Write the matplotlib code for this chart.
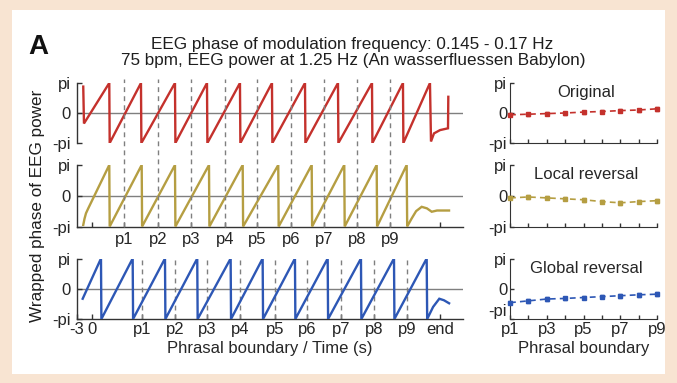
import numpy as np
import matplotlib
matplotlib.use("Agg")
import matplotlib.pyplot as plt
from matplotlib.patches import Rectangle
from matplotlib.lines import Line2D

plt.rcParams['font.family'] = ['Liberation Sans', 'DejaVu Sans']

PI = np.pi

# ---------------- data (phase in units of pi, time in s) ----------------
# Original (red)
orig_start_t = [-1.69, -1.55]
orig_start_ph = [0.88, -0.35]
orig_peaks_t = [3.36, 9.51, 16.11, 22.32, 28.72, 34.93, 41.34, 47.74, 54.34, 60.35, 65.59]
orig_tail_t = [65.79, 66.37, 67.54, 69.09, 69.15]
orig_tail_ph = [-0.95, -0.68, -0.57, -0.51, 0.54]

# Local reversal (olive)
local_start_t = [-1.69, -1.45, -1.16, -0.72]
local_start_ph = [-0.95, -0.75, -0.57, -0.41]
local_peaks_t = [3.36, 9.65, 16.11, 22.71, 29.25, 36.15, 42.64, 48.96, 55.25, 61.07]
local_tail_t = [61.17, 62.0, 62.9, 63.98, 65.0, 65.93, 66.96, 69.29]
local_tail_ph = [-1.0, -0.75, -0.5, -0.36, -0.41, -0.52, -0.48, -0.48]

# Global reversal (blue)
global_start_t = [-1.80]
global_start_ph = [-0.33]
global_peaks_t = [1.75, 7.90, 14.17, 20.43, 26.91, 33.12, 39.39, 45.74, 52.20, 58.61, 64.95]
global_tail_t = [65.05, 66.2, 67.4, 68.3, 69.3]
global_tail_ph = [-1.0, -0.6, -0.33, -0.38, -0.48]

# phrasal boundaries (s)
bound_orig = [6.3, 12.8, 19.2, 25.8, 32.1, 38.6, 45.0, 51.4, 57.8]
bound_global = [9.7, 16.1, 22.3, 28.7, 35.5, 41.7, 48.3, 54.7, 61.1]
t_end = 67.6
bound_labels = ['p1', 'p2', 'p3', 'p4', 'p5', 'p6', 'p7', 'p8', 'p9']

# phase at phrasal boundaries (units of pi), mean and error
phr_idx = [1, 2, 3, 4, 5, 6, 7, 8, 9]
orig_mean = [-0.06, -0.04, -0.02, 0.0, 0.03, 0.05, 0.08, 0.10, 0.14]
orig_err = [0.05, 0.05, 0.05, 0.05, 0.05, 0.05, 0.06, 0.05, 0.06]
local_mean = [-0.07, -0.04, -0.07, -0.10, -0.13, -0.19, -0.23, -0.19, -0.16]
local_err = [0.05, 0.05, 0.05, 0.05, 0.06, 0.06, 0.07, 0.06, 0.06]
global_mean = [-0.46, -0.40, -0.34, -0.32, -0.29, -0.26, -0.23, -0.20, -0.18]
global_err = [0.06, 0.06, 0.06, 0.06, 0.06, 0.06, 0.06, 0.06, 0.06]

RED = '#C4312C'
OLIVE = '#B59E42'
BLUE = '#2D57B5'
GRAY = '#7F7F7F'


def sawtooth(start_t, start_ph, peaks, tail_t, tail_ph, eps=0.08):
    t = list(start_t)
    p = list(start_ph)
    for i, pk in enumerate(peaks):
        t.append(pk)
        p.append(1.0)
        if i < len(peaks) - 1:
            t.append(pk + eps)
            p.append(-1.0)
    t += list(tail_t)
    p += list(tail_ph)
    return np.array(t), np.array(p) * PI


W, H = 677, 383
fig = plt.figure(figsize=(W / 100, H / 100), dpi=100)
fig.patch.set_facecolor('#F8E4D2')
fig.add_artist(Rectangle((12 / W, 1 - 374 / H), (665 - 12) / W, (374 - 10) / H,
                         transform=fig.transFigure, facecolor='white',
                         edgecolor='none', zorder=-10))


def fx(px):
    return px / W


def fy(py):
    return 1 - py / H


rows = [(83, 143), (165, 226.5), (258.5, 319)]
L, R = 76.5, 463
L2, R2 = 510, 657

series = [
    (orig_start_t, orig_start_ph, orig_peaks_t, orig_tail_t, orig_tail_ph, RED, bound_orig),
    (local_start_t, local_start_ph, local_peaks_t, local_tail_t, local_tail_ph, OLIVE, bound_orig),
    (global_start_t, global_start_ph, global_peaks_t, global_tail_t, global_tail_ph, BLUE, bound_global),
]
right_series = [(orig_mean, orig_err, RED, 'Original'),
                (local_mean, local_err, OLIVE, 'Local reversal'),
                (global_mean, global_err, BLUE, 'Global reversal')]

FS = 12
TXT = '#262626'
left_axes = []
for i, ((top, bot), s) in enumerate(zip(rows, series)):
    ax = fig.add_axes([fx(L), fy(bot), fx(R) - fx(L), fy(top) - fy(bot)])
    ax.set_facecolor('none')
    st, sp, pk, tt, tp, col, bnd = s
    t, ph = sawtooth(st, sp, pk, tt, tp)
    ax.axhline(0, color=GRAY, lw=1.0, zorder=1)
    ax.plot(t, ph, color=col, lw=1.7, zorder=3, solid_joinstyle='miter')
    ax.set_xlim(-3, 72)
    ax.set_ylim(-PI, PI)
    ax.set_yticks([-PI, 0, PI])
    ax.set_yticklabels(['-pi', '0', 'pi'])
    for sname in ['top', 'right']:
        ax.spines[sname].set_visible(False)
    ax.spines['left'].set_color('#333333')
    ax.spines['bottom'].set_color('#333333')
    ax.spines['left'].set_linewidth(1.0)
    ax.spines['bottom'].set_linewidth(1.0)
    ax.tick_params(direction='in', length=3.5, width=1.0, labelsize=FS,
                   color='#333333', labelcolor=TXT, pad=4)
    if i == 0:
        ax.spines['bottom'].set_visible(False)
        ax.set_xticks([])
    elif i == 1:
        ax.set_xticks([0] + bnd + [t_end])
        ax.set_xticklabels([''] + bound_labels + [''])
        ax.tick_params(axis='x', pad=4)
    else:
        ax.set_xticks([-3, 0] + bnd + [t_end])
        ax.set_xticklabels(['-3', '0'] + bound_labels + ['end'])
        ax.tick_params(axis='x', pad=2)
        ax.set_xlabel('Phrasal boundary / Time (s)', fontsize=FS, labelpad=3,
                      color=TXT)
    left_axes.append(ax)

# dashed boundary lines
ax0, ax1, ax2 = left_axes
for b in bound_orig:
    xf = ax0.transData.transform((b, 0))[0] / fig.dpi / fig.get_figwidth()
    fig.add_artist(Line2D([xf, xf], [fy(227), fy(79)], transform=fig.transFigure,
                          color=GRAY, lw=1.0, ls=(0, (3.5, 3)), zorder=2))
for b in bound_global:
    ax2.axvline(b, color=GRAY, lw=1.0, ls=(0, (3.5, 3)), zorder=2)

# right panels
for i, ((top, bot), (m, e, col, name)) in enumerate(zip(rows, right_series)):
    ax = fig.add_axes([fx(L2), fy(bot), fx(R2) - fx(L2), fy(top) - fy(bot)])
    ax.set_facecolor('none')
    ax.errorbar(phr_idx, np.array(m) * PI, yerr=np.array(e) * PI, color=col,
                lw=1.2, ls=(0, (3.5, 2.5)), marker='s', ms=3.2, capsize=1.6,
                elinewidth=1.3, clip_on=False, zorder=3)
    ax.set_xlim(1, 9)
    ax.set_ylim(-PI, PI)
    ax.set_yticks([-PI, 0, PI])
    ax.set_yticklabels(['-pi', '0', 'pi'])
    ax.set_xticks(phr_idx)
    for sname in ['top', 'right']:
        ax.spines[sname].set_visible(False)
    ax.spines['left'].set_color('#333333')
    ax.spines['bottom'].set_color('#333333')
    ax.tick_params(direction='in', length=3, width=1.0, labelsize=FS,
                   color='#333333', labelcolor=TXT, pad=2)
    if i == 2:
        ax.set_xticklabels(['p1', '', 'p3', '', 'p5', '', 'p7', '', 'p9'])
        ax.set_xlabel('Phrasal boundary', fontsize=FS, labelpad=3, color=TXT)
        # keep bottom-left labels apart
        ylabs = ax.get_yticklabels()
        ylabs[0].set_va('bottom')
    else:
        ax.set_xticklabels([])
    ax.text(0.52, 0.84, name, transform=ax.transAxes, ha='center', va='center',
            fontsize=FS, color=TXT)

fig.text(fx(352), fy(45), 'EEG phase of modulation frequency: 0.145 - 0.17 Hz',
         ha='center', va='center', fontsize=12.3, color='#1e1e1e')
fig.text(fx(353), fy(61), '75 bpm, EEG power at 1.25 Hz (An wasserfluessen Babylon)',
         ha='center', va='center', fontsize=12.3, color='#1e1e1e')
fig.text(fx(38), fy(47), 'A', ha='center', va='center', fontsize=20,
         fontweight='bold', color='#111111')
fig.text(fx(38), fy(206), 'Wrapped phase of EEG power', rotation=90,
         ha='center', va='center', fontsize=12.3, color='#1e1e1e')

fig.savefig('out.png', dpi=100, facecolor=fig.get_facecolor())
